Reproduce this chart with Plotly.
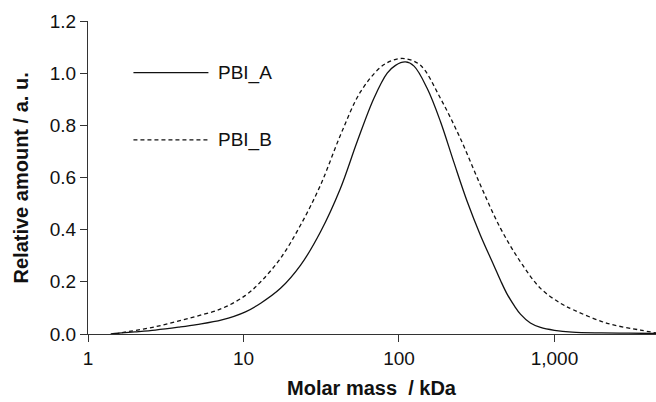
import plotly.graph_objects as go

mass_a = [1.4, 1.57, 2.0, 2.71, 3.82, 5.0, 7.26, 10.3, 12.9, 17.3, 23.3, 31.3, 42.0, 53.8, 68.9, 84.0, 95,
          110, 125, 152, 185, 225, 275, 334, 407, 450, 497, 555, 604, 700, 813, 1000, 1300, 2000, 3000, 4500]
pbi_a = [0.0, 0.003, 0.008, 0.015, 0.026, 0.036, 0.054, 0.085, 0.118, 0.175, 0.264, 0.392, 0.558, 0.737, 0.903, 1.000, 1.030,
         1.043, 1.027, 0.941, 0.814, 0.660, 0.507, 0.379, 0.264, 0.205, 0.152, 0.106, 0.076, 0.042, 0.025, 0.014, 0.007, 0.004, 0.003, 0.002]

mass_b = [1.5, 1.65, 2.71, 4.43, 7.26, 10.3, 12.9, 17.3, 23.3, 31.3, 42.0, 56.5, 75.9, 90, 108,
          137, 185, 248, 334, 450, 604, 813, 1093, 1331, 2183, 3573, 4500]
pbi_b = [0.0, 0.005, 0.028, 0.060, 0.098, 0.148, 0.200, 0.290, 0.418, 0.571, 0.762, 0.928, 1.022, 1.048, 1.056,
         1.031, 0.903, 0.750, 0.571, 0.405, 0.277, 0.175, 0.118, 0.092, 0.041, 0.015, 0.004]

x_tickvals = [1, 10, 100, 1000]
x_ticktext = ["1", "10", "100", "1,000"]
y_tickvals = [0.0, 0.2, 0.4, 0.6, 0.8, 1.0, 1.2]
series_names = ["PBI_A", "PBI_B"]

FONT = "Liberation Sans, Arial, sans-serif"
TXT = "#111111"

fig = go.Figure()
fig.add_trace(go.Scatter(x=mass_a, y=pbi_a, mode="lines", name=series_names[0],
                         line=dict(color=TXT, width=1.3, shape="spline", smoothing=1.0),
                         showlegend=False))
fig.add_trace(go.Scatter(x=mass_b, y=pbi_b, mode="lines", name=series_names[1],
                         line=dict(color=TXT, width=1.3, dash="4px,3px", shape="spline", smoothing=1.0),
                         showlegend=False))

# custom legend
legend_y = [0.835, 0.620]
legend_dash = ["solid", "4px,3px"]
for name, ly, dsh in zip(series_names, legend_y, legend_dash):
    fig.add_shape(type="line", xref="paper", yref="paper", x0=0.080, x1=0.212, y0=ly, y1=ly,
                  line=dict(color=TXT, width=1.3, dash=dsh))
    fig.add_annotation(xref="paper", yref="paper", x=0.226, y=ly, text=name, showarrow=False,
                       xanchor="left", yanchor="middle", font=dict(family=FONT, size=19, color=TXT))

fig.add_annotation(xref="paper", yref="paper", x=0.5, y=-0.173, text="<b>Molar mass  / kDa</b>",
                   showarrow=False, xanchor="center", yanchor="middle",
                   font=dict(family=FONT, size=20, color=TXT))
fig.add_annotation(xref="paper", yref="paper", x=-0.118, y=0.5, text="<b>Relative amount / a. u.</b>",
                   showarrow=False, xanchor="center", yanchor="middle", textangle=-90,
                   font=dict(family=FONT, size=20, color=TXT))

fig.update_xaxes(type="log", range=[0, 3.653], tickvals=x_tickvals, ticktext=x_ticktext,
                 showline=True, linecolor="#333333", linewidth=1.2, ticks="outside", ticklen=7,
                 tickcolor="#333333", showgrid=False, zeroline=False,
                 tickfont=dict(family=FONT, size=19, color=TXT))
fig.update_yaxes(range=[0, 1.2], tickvals=y_tickvals, tickformat=".1f",
                 showline=True, linecolor="#333333", linewidth=1.2, ticks="outside", ticklen=7,
                 tickcolor="#333333", showgrid=False, zeroline=False,
                 tickfont=dict(family=FONT, size=19, color=TXT))

fig.update_layout(width=656, height=402, margin=dict(l=88, r=0, t=21, b=68),
                  plot_bgcolor="white", paper_bgcolor="white", showlegend=False)

fig.write_html("out.html", config={"displayModeBar": False},
               post_script="document.body.style.margin='0';document.body.style.overflow='hidden';")
